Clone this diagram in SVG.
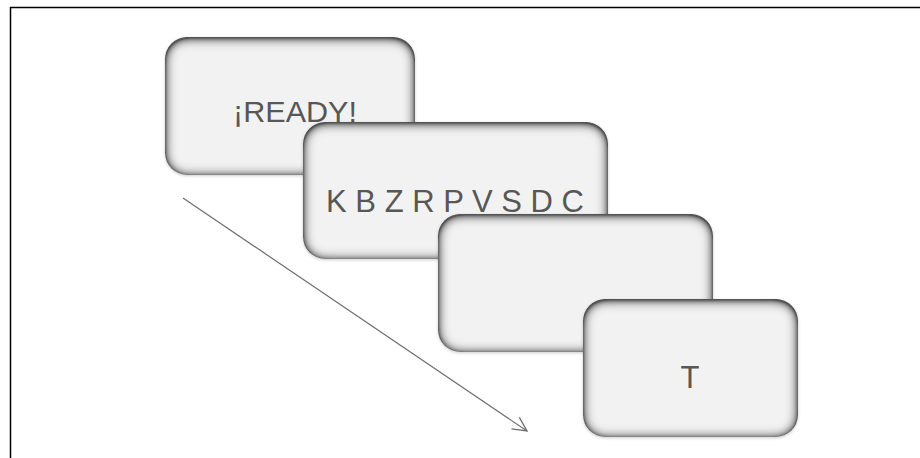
<svg xmlns="http://www.w3.org/2000/svg" width="920" height="458" viewBox="0 0 920 458">
  <defs>
    <!-- inner bevel: dark rim fading toward the middle of each card -->
    <filter id="bevel" x="-10%" y="-10%" width="120%" height="120%">
      <feFlood flood-color="#555555" result="ink"/>
      <feComposite in="ink" in2="SourceAlpha" operator="out" result="rim"/>
      <feGaussianBlur in="rim" stdDeviation="6" result="rimBlur"/>
      <feOffset in="rimBlur" dx="0" dy="1" result="rimOff"/>
      <feComposite in="rimOff" in2="SourceAlpha" operator="in" result="inner"/>
      <feComponentTransfer in="inner" result="innerStrong">
        <feFuncA type="linear" slope="2"/>
      </feComponentTransfer>
      <feGaussianBlur in="SourceAlpha" stdDeviation="1.5" result="dropBlur"/>
      <feOffset in="dropBlur" dx="0" dy="1" result="dropOff"/>
      <feColorMatrix in="dropOff" type="matrix" values="0 0 0 0 0  0 0 0 0 0  0 0 0 0 0  0 0 0 0.2 0" result="drop"/>
      <feMerge>
        <feMergeNode in="drop"/>
        <feMergeNode in="SourceGraphic"/>
        <feMergeNode in="innerStrong"/>
      </feMerge>
    </filter>
    <marker id="open-head" viewBox="0 0 16 16" refX="15" refY="8" markerWidth="16" markerHeight="16" markerUnits="userSpaceOnUse" orient="auto">
      <path d="M1 1 L15 8 L1 15" fill="none" stroke="#6e6e6e" stroke-width="1.3"/>
    </marker>
  </defs>
  <style>
    .card { fill: #f2f2f2; filter: url(#bevel); }
    .label { font-family: "Liberation Sans", Arial, sans-serif; fill: #575757; font-size: 29px; }
    .big { font-size: 31px; }
    .frame { stroke: #000; stroke-width: 1.5; fill: none; }
  </style>

  <rect width="920" height="458" fill="#ffffff"/>
  <path class="frame" d="M10.5 458 V7.5 H920"/>

  <g id="connectors">
    <line x1="183" y1="198" x2="527" y2="431" stroke="#6e6e6e" stroke-width="1.2" marker-end="url(#open-head)"/>
  </g>

  <g id="ready">
    <rect class="card" x="165" y="37" width="250" height="138" rx="22"/>
    <text class="label" x="233" y="122" textLength="124" lengthAdjust="spacingAndGlyphs">¡READY!</text>
  </g>

  <g id="letters">
    <rect class="card" x="303" y="122" width="305" height="137" rx="22"/>
    <text class="label big" x="326" y="212" textLength="258" lengthAdjust="spacing">K B Z R P V S D C</text>
  </g>

  <g id="blank">
    <rect class="card" x="438" y="214" width="275" height="138" rx="22"/>
  </g>

  <g id="probe">
    <rect class="card" x="583" y="299" width="215" height="138" rx="22"/>
    <text class="label big" x="690" y="388" text-anchor="middle">T</text>
  </g>
</svg>
